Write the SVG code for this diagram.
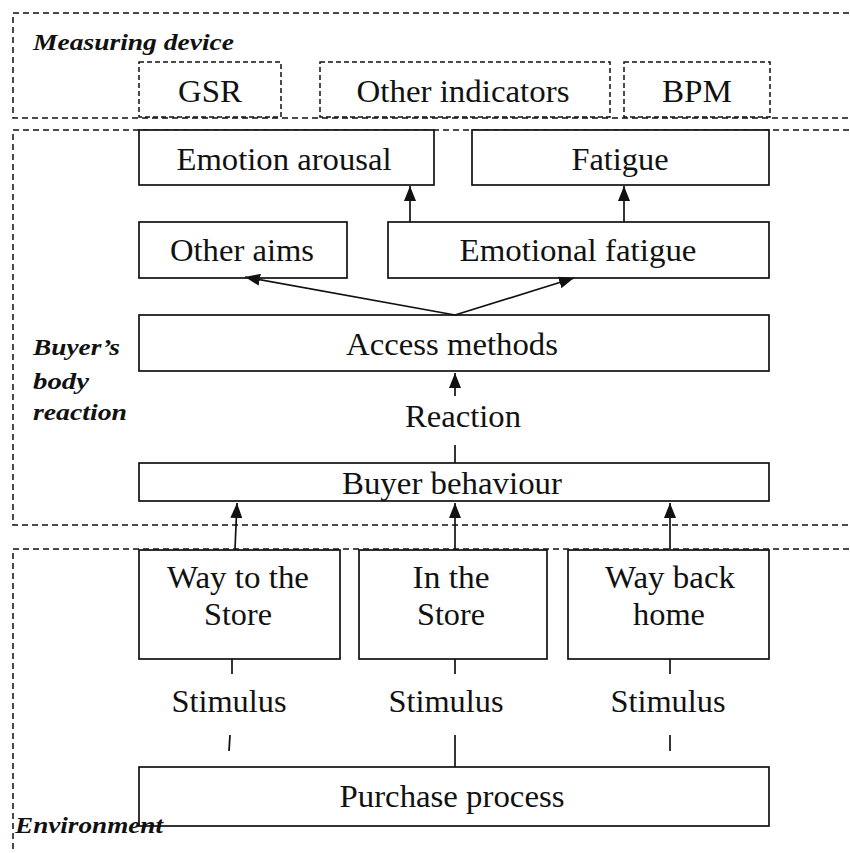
<svg xmlns="http://www.w3.org/2000/svg" width="850" height="853" viewBox="0 0 850 853">
<style>
.bg{fill:#fff}
.zone{fill:none;stroke:#111;stroke-width:1.5;stroke-dasharray:6,4}
.dbox{fill:none;stroke:#111;stroke-width:1.5;stroke-dasharray:5,3}
.box{fill:#fff;stroke:#111;stroke-width:1.7}
.t{font-family:"Liberation Serif","Times New Roman",serif;font-size:32px;fill:#111;text-anchor:middle}
.lbl{font-family:"Liberation Serif","Times New Roman",serif;font-size:24px;font-weight:bold;font-style:italic;fill:#111}
.ln{stroke:#111;stroke-width:1.7;fill:none}
</style>
<defs>
<marker id="ah" viewBox="0 0 15 12" refX="15" refY="6" markerWidth="15" markerHeight="12" markerUnits="userSpaceOnUse" orient="auto">
<path d="M0,0 L15,6 L0,12 z" fill="#111"/>
</marker>
</defs>
<rect class="bg" x="0" y="0" width="850" height="853"/>
<g id="zones">
<rect class="zone" x="13" y="13" width="860" height="105"/>
<rect class="zone" x="13" y="130" width="860" height="395"/>
<rect class="zone" x="13" y="549" width="860" height="340"/>
<text class="lbl" x="33" y="50" textLength="201" lengthAdjust="spacingAndGlyphs">Measuring device</text>
<text class="lbl" x="33" y="355" textLength="87" lengthAdjust="spacingAndGlyphs">Buyer’s</text>
<text class="lbl" x="33" y="389" textLength="56" lengthAdjust="spacingAndGlyphs">body</text>
<text class="lbl" x="33" y="420" textLength="94" lengthAdjust="spacingAndGlyphs">reaction</text>
</g>
<g id="gsr"><rect class="dbox" x="139" y="62" width="142" height="55"/><text class="t" x="210" y="102" textLength="64" lengthAdjust="spacingAndGlyphs">GSR</text></g>
<g id="other-indicators"><rect class="dbox" x="320" y="62" width="290" height="55"/><text class="t" x="463" y="102" textLength="213" lengthAdjust="spacingAndGlyphs">Other indicators</text></g>
<g id="bpm"><rect class="dbox" x="624" y="62" width="146" height="55"/><text class="t" x="697" y="102" textLength="70" lengthAdjust="spacingAndGlyphs">BPM</text></g>
<g id="emotion-arousal"><rect class="box" x="139" y="130" width="295" height="55"/><text class="t" x="284" y="170" textLength="215" lengthAdjust="spacingAndGlyphs">Emotion arousal</text></g>
<g id="fatigue"><rect class="box" x="472" y="130" width="297" height="55"/><text class="t" x="620" y="170" textLength="97" lengthAdjust="spacingAndGlyphs">Fatigue</text></g>
<g id="other-aims"><rect class="box" x="139" y="222" width="208" height="56"/><text class="t" x="242" y="261" textLength="144" lengthAdjust="spacingAndGlyphs">Other aims</text></g>
<g id="emotional-fatigue"><rect class="box" x="388" y="222" width="381" height="56"/><text class="t" x="578" y="261" textLength="237" lengthAdjust="spacingAndGlyphs">Emotional fatigue</text></g>
<g id="access-methods"><rect class="box" x="139" y="315" width="630" height="56"/><text class="t" x="452" y="355" textLength="212" lengthAdjust="spacingAndGlyphs">Access methods</text></g>
<g id="reaction"><text class="t" x="463" y="427" textLength="116" lengthAdjust="spacingAndGlyphs">Reaction</text></g>
<g id="buyer-behaviour"><rect class="box" x="139" y="463" width="630" height="38"/><text class="t" x="452" y="494" textLength="220" lengthAdjust="spacingAndGlyphs">Buyer behaviour</text></g>
<g id="way-to-store"><rect class="box" x="139" y="550" width="201" height="109"/><text class="t" x="238" y="588" textLength="142" lengthAdjust="spacingAndGlyphs">Way to the</text><text class="t" x="238" y="625" textLength="68" lengthAdjust="spacingAndGlyphs">Store</text></g>
<g id="in-store"><rect class="box" x="359" y="550" width="188" height="109"/><text class="t" x="451" y="588" textLength="77" lengthAdjust="spacingAndGlyphs">In the</text><text class="t" x="451" y="625" textLength="68" lengthAdjust="spacingAndGlyphs">Store</text></g>
<g id="way-back-home"><rect class="box" x="568" y="550" width="201" height="109"/><text class="t" x="670" y="588" textLength="130" lengthAdjust="spacingAndGlyphs">Way back</text><text class="t" x="669" y="625" textLength="72" lengthAdjust="spacingAndGlyphs">home</text></g>
<g id="stimulus-1"><text class="t" x="229" y="712" textLength="115" lengthAdjust="spacingAndGlyphs">Stimulus</text></g>
<g id="stimulus-2"><text class="t" x="446" y="712" textLength="115" lengthAdjust="spacingAndGlyphs">Stimulus</text></g>
<g id="stimulus-3"><text class="t" x="668" y="712" textLength="115" lengthAdjust="spacingAndGlyphs">Stimulus</text></g>
<g id="purchase-process"><rect class="box" x="139" y="767" width="630" height="59"/><text class="t" x="452" y="807" textLength="225" lengthAdjust="spacingAndGlyphs">Purchase process</text></g>
<g id="environment-label"><text class="lbl" x="15" y="833" textLength="148" lengthAdjust="spacingAndGlyphs">Environment</text></g>
<g id="connectors">
<line class="ln" x1="410" y1="222" x2="410" y2="186" marker-end="url(#ah)"/>
<line class="ln" x1="624" y1="222" x2="624" y2="186" marker-end="url(#ah)"/>
<line class="ln" x1="455" y1="315" x2="245" y2="277" marker-end="url(#ah)"/>
<line class="ln" x1="455" y1="315" x2="574" y2="278" marker-end="url(#ah)"/>
<line class="ln" x1="455" y1="396" x2="455" y2="373" marker-end="url(#ah)"/>
<line class="ln" x1="455" y1="445" x2="455" y2="463"/>
<line class="ln" x1="235" y1="549" x2="237" y2="503" marker-end="url(#ah)"/>
<line class="ln" x1="455" y1="549" x2="455" y2="503" marker-end="url(#ah)"/>
<line class="ln" x1="670" y1="549" x2="670" y2="503" marker-end="url(#ah)"/>
<line class="ln" x1="232" y1="659" x2="232" y2="674"/>
<line class="ln" x1="455" y1="659" x2="455" y2="674"/>
<line class="ln" x1="670" y1="659" x2="670" y2="674"/>
<line class="ln" x1="230" y1="735" x2="229" y2="751"/>
<line class="ln" x1="455" y1="735" x2="455" y2="767"/>
<line class="ln" x1="670" y1="735" x2="670" y2="751"/>
</g>
</svg>
